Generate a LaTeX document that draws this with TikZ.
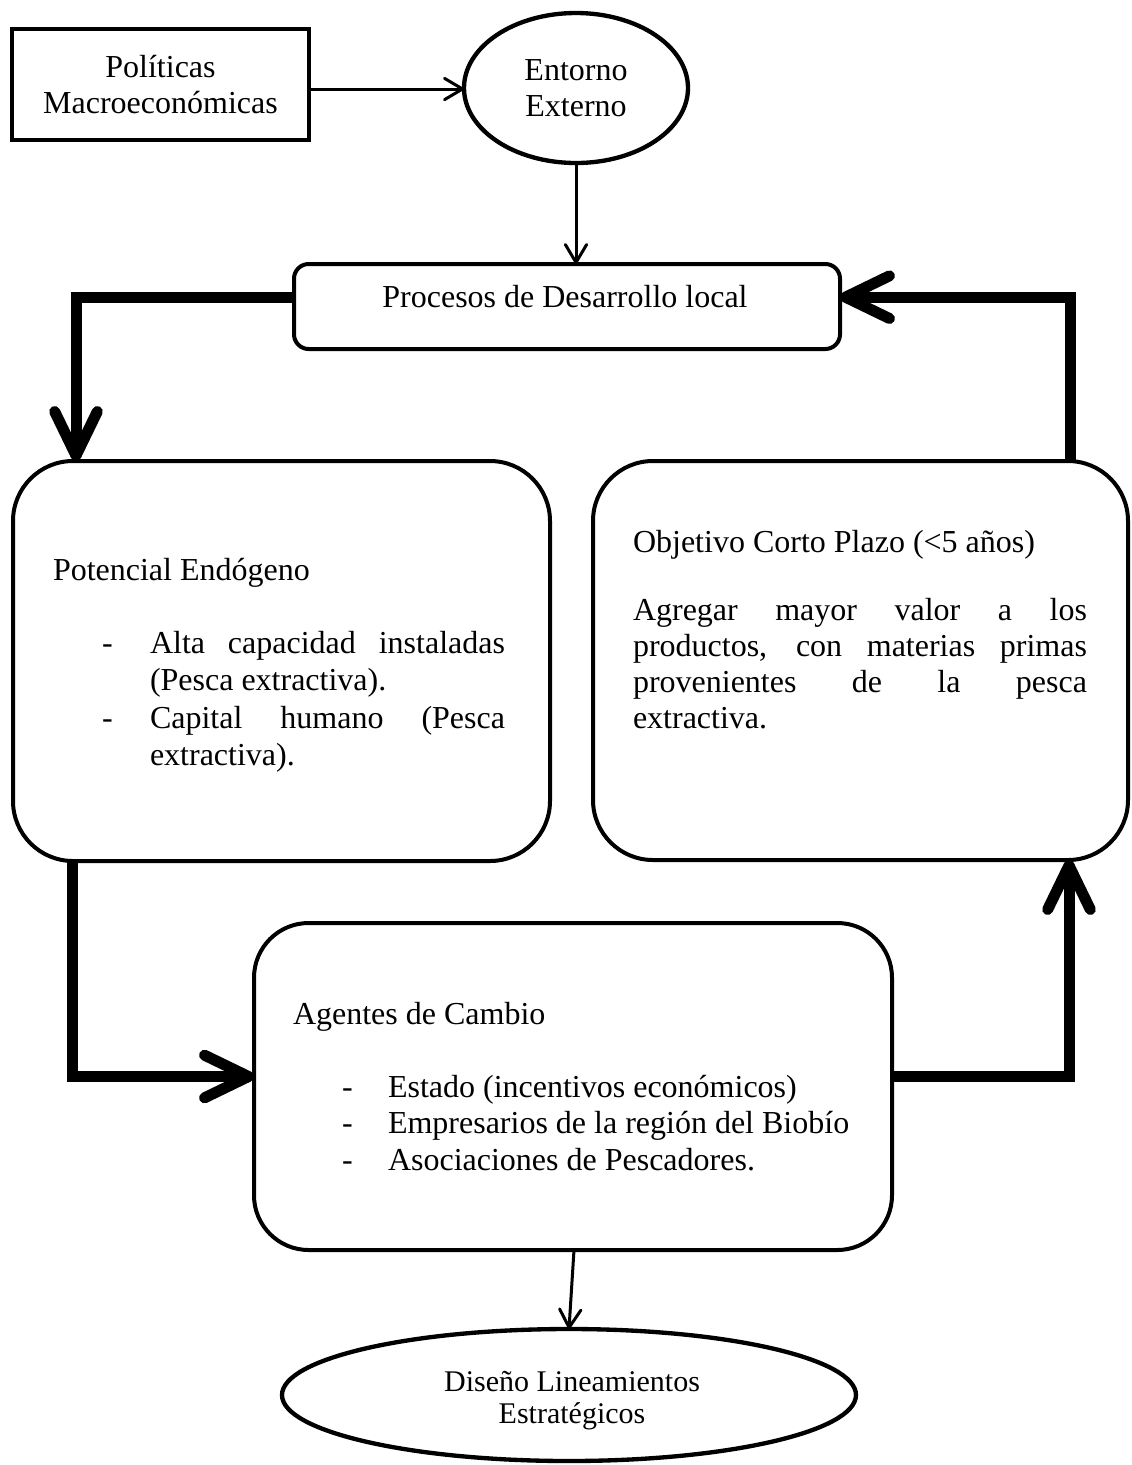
\documentclass[tikz,border=0pt]{standalone}
\usepackage{fontspec}
\setmainfont{Liberation Serif}
\usetikzlibrary{arrows.meta,shapes.geometric}
\begin{document}
\begin{tikzpicture}[x=0.75pt,y=-0.75pt,
  box/.style={draw, line width=3pt, inner sep=0pt, outer sep=0pt},
  rbox/.style={box, rounded corners=45pt},
  oval/.style={box, ellipse, line width=3.25pt},
  txt/.style={inner sep=0pt, outer sep=0pt, anchor=base west, font=\fontsize{24}{27}\selectfont},
  ctxt/.style={txt, anchor=base},
  smalltxt/.style={ctxt, font=\fontsize{22.5}{24}\selectfont},
  thinarrow/.style={line width=2.25pt, -{Straight Barb[length=13.5pt,width=16pt,round]}},
  thickarrow/.style={line width=8.25pt, line join=miter, -{Straight Barb[length=33pt,width=32pt,round]}},
]
\useasboundingbox (0,0) rectangle (1132,1465);

% boxes
\node[box, minimum width=222.75pt, minimum height=83.25pt, align=center,
      font=\fontsize{24}{27}\selectfont] (pol) at (160.5,84.5) {Políticas\\Macroeconómicas};
\node[oval, minimum width=168pt, minimum height=112.5pt, align=center,
      font=\fontsize{24}{27}\selectfont] (ent) at (576,88) {Entorno\\Externo};
\node[box, rounded corners=11pt, minimum width=409.5pt, minimum height=63.75pt] (proc) at (567,306.5) {};
\node[rbox, minimum width=402.75pt, minimum height=300pt] (pot) at (281.5,661) {};
\node[rbox, minimum width=401.25pt, minimum height=299.25pt] (obj) at (860.5,660.5) {};
\node[box, rounded corners=41pt, minimum width=478.5pt, minimum height=245.25pt] (ag) at (573,1086.5) {};
\node[oval, minimum width=430.5pt, minimum height=99pt] (dis) at (569,1395) {};

% texts
\node[ctxt] (proct) at (565,307) {Procesos de Desarrollo local};

\node[txt] (potT) at (53,580) {Potencial Endógeno};
\node[txt] (pd1) at (102,653) {-};
\node[txt] (pl1) at (150,653) {\makebox[266.25pt][s]{Alta capacidad instaladas}};
\node[txt] (pl2) at (150,690) {(Pesca extractiva).};
\node[txt] (pd2) at (102,728) {-};
\node[txt] (pl3) at (150,728) {\makebox[266.25pt][s]{Capital humano (Pesca}};
\node[txt] (pl4) at (150,765) {extractiva).};

\node[txt] (objT) at (633,552) {Objetivo Corto Plazo (<5 años)};
\node[txt] (ol1) at (633,620) {\makebox[340.5pt][s]{Agregar mayor valor a los}};
\node[txt] (ol2) at (633,656) {\makebox[340.5pt][s]{productos, con materias primas}};
\node[txt] (ol3) at (633,692) {\makebox[340.5pt][s]{provenientes de la pesca}};
\node[txt] (ol4) at (633,728) {extractiva.};

\node[txt] (agT) at (293,1024) {Agentes de Cambio};
\node[txt] (ad1) at (342,1097) {-};
\node[txt] (al1) at (388,1097) {Estado (incentivos económicos)};
\node[txt] (ad2) at (342,1133) {-};
\node[txt] (al2) at (388,1133) {Empresarios de la región del Biobío};
\node[txt] (ad3) at (342,1170) {-};
\node[txt] (al3) at (388,1170) {Asociaciones de Pescadores.};

\node[smalltxt] (dt1) at (572,1391) {Diseño Lineamientos};
\node[smalltxt] (dt2) at (572,1423) {Estratégicos};

% connectors
\draw[thinarrow] (pol.east |- 0,89) -- (ent.west |- 0,89);
\draw[thinarrow] (ent.south) -- (ent.south |- proc.north);
\draw[thickarrow] ([yshift=7pt]proc.west) -| ([xshift=47.25pt]pot.north west);
\draw[thickarrow] ([xshift=-43.5pt]obj.north east) |- ([yshift=7pt]proc.east);
\draw[thickarrow] ([xshift=44.25pt]pot.south west) |- ([yshift=7.5pt]ag.west);
\draw[thickarrow] ([yshift=7.5pt]ag.east) -| ([xshift=-44.25pt]obj.south east);
\draw[thinarrow] ([xshift=0.75pt]ag.south) -- (dis.north);
\end{tikzpicture}
\end{document}
